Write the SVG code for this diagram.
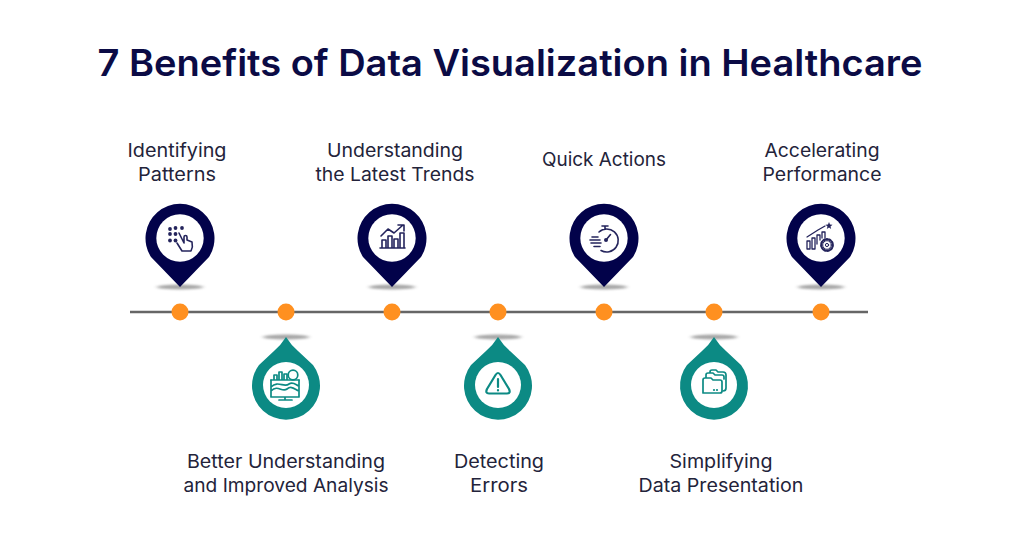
<svg xmlns="http://www.w3.org/2000/svg" width="1024" height="538" viewBox="0 0 1024 538">
<style>
text{font-family:"Inter","Noto Sans","Liberation Sans",sans-serif;text-anchor:middle}
.t{font-size:37px;font-weight:600;fill:#0b0b45}
.l{font-size:18.5px;font-weight:400;fill:#23233a}
.n{fill:#02024a}.g{fill:#0c8a84}.w{fill:#fff}
.in{fill:none;stroke:#24245c;stroke-width:1.600;stroke-linecap:round;stroke-linejoin:round}
.ig{fill:none;stroke:#0c8a84;stroke-width:1.700;stroke-linecap:round;stroke-linejoin:round}
.d{fill:#ff9020}
.s{fill:#8a8a8a;opacity:.75;filter:url(#b)}
</style>
<defs>
<filter id="b" x="-30%" y="-200%" width="160%" height="500%"><feGaussianBlur stdDeviation="2.2 1"/></filter>
<path id="up" d="M0 49 L-29 19 A34.500 34.500 0 1 1 29 19 Z"/>
<path id="dn" d="M0 -48 Q-5 -40 -12 -34 L-27 -20 A34 34 0 1 0 27 -20 L12 -34 Q5 -40 0 -48Z"/>
</defs>
<text class="t" x="510" y="76" textLength="825" lengthAdjust="spacingAndGlyphs">7 Benefits of Data Visualization in Healthcare</text>
<g id="connectors"><line x1="130" y1="312" x2="868" y2="312" stroke="#666" stroke-width="2.500"/></g>

<g id="node1">
<ellipse class="s" cx="180" cy="287" rx="23" ry="2.500"/>
<use href="#up" class="n" x="180" y="238"/><circle class="w" cx="180" cy="238" r="23.700"/>
<g fill="#24245c"><circle cx="170" cy="229" r="1.900"/><circle cx="175.500" cy="228" r="1.900"/><circle cx="182" cy="228" r="1.900"/><circle cx="170" cy="234" r="1.900"/><circle cx="175.500" cy="234" r="1.900"/><circle cx="170" cy="240.500" r="1.900"/><circle cx="175.500" cy="240.500" r="1.900"/></g>
<path class="in" d="M179 233 L184 243 V237 a1.500 1.500 0 0 1 3 0 V240 L192 242 C193 246 192 249 191 251 H182 L177 243"/>
<circle class="d" cx="180" cy="312" r="8.500"/>
<text class="l" x="177" y="156.500" textLength="99" lengthAdjust="spacingAndGlyphs">Identifying</text>
<text class="l" x="177" y="180.500" textLength="78" lengthAdjust="spacingAndGlyphs">Patterns</text>
</g>

<g id="node2">
<ellipse class="s" cx="286" cy="337" rx="23" ry="2.500"/>
<use href="#dn" class="g" x="286" y="385"/><circle class="w" cx="286" cy="385" r="23"/>
<path class="ig" d="M271 380 V397 H299 V380 M271 391 C278 384 282 393 287 389 C292 385 295 390 299 391 M271 387 C278 380 284 388 289 384 C293 381 296 385 299 386 M285 397 V400 M279 400 H292"/>
<path class="ig" d="M274 380 V375 H277 V380 M279 380 V372 H282 V380 M284 380 V374 H287 V380 M271 380 H299"/>
<circle class="ig" cx="293" cy="375" r="4.800" style="fill:#fff"/>
<circle class="d" cx="286" cy="312" r="8.500"/>
<text class="l" x="286" y="467.500" textLength="198" lengthAdjust="spacingAndGlyphs">Better Understanding</text>
<text class="l" x="286" y="491.500" textLength="205" lengthAdjust="spacingAndGlyphs">and Improved Analysis</text>
</g>

<g id="node3">
<ellipse class="s" cx="392" cy="287" rx="23" ry="2.500"/>
<use href="#up" class="n" x="392" y="238"/><circle class="w" cx="392" cy="238" r="23.700"/>
<path class="in" d="M380 248 H405 M382 248 V240 H386 V248 M388 248 V236 H392 V248 M394 248 V239 H398 V248 M400 248 V233 H404 V248 M381 236 L388 229 L394 233 L403 225 M398 225 H404 V231"/>
<circle class="d" cx="392" cy="312" r="8.500"/>
<text class="l" x="395" y="156.500" textLength="136" lengthAdjust="spacingAndGlyphs">Understanding</text>
<text class="l" x="395" y="180.500" textLength="159" lengthAdjust="spacingAndGlyphs">the Latest Trends</text>
</g>

<g id="node4">
<ellipse class="s" cx="498" cy="337" rx="23" ry="2.500"/>
<use href="#dn" class="g" x="498" y="385"/><circle class="w" cx="498" cy="385" r="23"/>
<path class="ig" style="stroke-width:2.200" d="M495.500 375 Q498 371 500.500 375 L509 389 Q511 393.500 507 393.500 H489 Q485 393.500 487 389 Z M498 379 V387 M498 390 V390.500"/>
<circle class="d" cx="498" cy="312" r="8.500"/>
<text class="l" x="499" y="467.500" textLength="90" lengthAdjust="spacingAndGlyphs">Detecting</text>
<text class="l" x="499" y="491.500" textLength="58" lengthAdjust="spacingAndGlyphs">Errors</text>
</g>

<g id="node5">
<ellipse class="s" cx="604" cy="287" rx="23" ry="2.500"/>
<use href="#up" class="n" x="604" y="238"/><circle class="w" cx="604" cy="238" r="23.700"/>
<path class="in" d="M599 232 A11.500 11.500 0 1 1 601 250.500 M605 226 V229 M602 226 H608 M590 240 H600 M591 243 H601 M592 237 H598 M594 246.500 H600"/>
<circle cx="606" cy="240" r="2" fill="#24245c"/><path class="in" d="M606 240 L610.500 234.500"/>
<circle class="d" cx="604" cy="312" r="8.500"/>
<text class="l" x="604" y="165.500" textLength="124" lengthAdjust="spacingAndGlyphs">Quick Actions</text>
</g>

<g id="node6">
<ellipse class="s" cx="714" cy="337" rx="23" ry="2.500"/>
<use href="#dn" class="g" x="714" y="385"/><circle class="w" cx="714" cy="385" r="23"/>
<path class="ig" d="M706 378 V375 Q706 373 708 373 H713 L715 375 H722 Q724 375 724 377 V379 M710 373 V372 Q710 370 712 370 H716 L718 372 H723 Q726 372 726 375 V388 Q726 391 723 391"/>
<path class="ig" style="fill:#fff" d="M703 393 V380 Q703 378 705 378 H711 L713 380 H720 Q722 380 722 382 V391 Q722 393 720 393 Z"/>
<circle cx="714" cy="390" r="1.100" fill="#0c8a84"/><circle cx="717" cy="390" r="1.100" fill="#0c8a84"/>
<circle class="d" cx="714" cy="312" r="8.500"/>
<text class="l" x="721" y="467.500" textLength="103" lengthAdjust="spacingAndGlyphs">Simplifying</text>
<text class="l" x="721" y="491.500" textLength="165" lengthAdjust="spacingAndGlyphs">Data Presentation</text>
</g>

<g id="node7">
<ellipse class="s" cx="821" cy="287" rx="23" ry="2.500"/>
<use href="#up" class="n" x="821" y="238"/><circle class="w" cx="821" cy="238" r="23.700"/>
<path class="in" style="stroke-width:1.300" d="M807 249 V241 H810 V249 Z M812 249 V238 H815 V249 Z M817 244 V235 H820 V240 M822 238 V232 H825 V238 M807 237 L818 230 L825 226"/>
<path fill="#24245c" d="M829 222 l1 2.500 2.500 .2 -2 1.700 .7 2.500 -2.200-1.400 -2.200 1.400 .7-2.500 -2-1.700 2.500-.2Z"/>
<circle class="in" cx="827" cy="245" r="5.800" style="stroke-width:2.200;stroke-dasharray:2 1.200"/>
<circle class="in" cx="827" cy="245" r="4.300" style="stroke-width:1"/>
<circle class="in" cx="827" cy="245" r="1.600" style="stroke-width:1"/>
<circle class="d" cx="821" cy="312" r="8.500"/>
<text class="l" x="822" y="156.500" textLength="115" lengthAdjust="spacingAndGlyphs">Accelerating</text>
<text class="l" x="822" y="180.500" textLength="119" lengthAdjust="spacingAndGlyphs">Performance</text>
</g>
</svg>
